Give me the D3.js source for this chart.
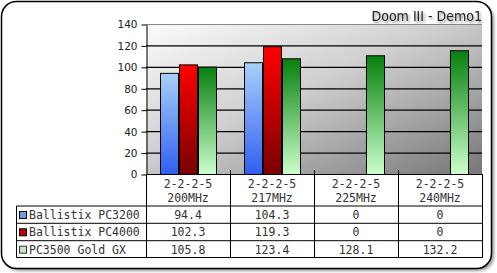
<!DOCTYPE html>
<html>
<head>
<meta charset="utf-8">
<script src="https://cdn.jsdelivr.net/npm/d3@7"></script>
<style>
  body { margin: 0; background: #fff; }
  svg { display: block; }
</style>
</head>
<body>
<svg></svg>
<script>
const width = 497;
const height = 273;

const categories = ['200MHz', '217MHz', '225MHz', '240MHz'];
const timings = ['2-2-2-5', '2-2-2-5', '2-2-2-5', '2-2-2-5'];
const seriesNames = ['Ballistix PC3200', 'Ballistix PC4000', 'PC3500 Gold GX'];
const pc3200 = [94.4, 104.3, 0, 0];
const pc4000 = [102.3, 119.3, 0, 0];
const goldGxBars = [100.2, 108, 110.8, 115.5];   // bar heights as drawn
const goldGxTable = [105.8, 123.4, 128.1, 132.2]; // values printed in the table
const yTicks = [0, 20, 40, 60, 80, 100, 120, 140];

const barSeries = [pc3200, pc4000, goldGxBars];
const tableSeries = [pc3200, pc4000, goldGxTable];

const plot = { left: 146, right: 482, top: 24, bottom: 174 };
const tableLeft = 16.5;
const rowLines = [206, 223.3, 240.7, 257.5];

const svg = d3.select('svg')
    .attr('width', width)
    .attr('height', height);

const defs = svg.append('defs');

const blur = defs.append('filter').attr('id', 'blur')
    .attr('x', '-20%').attr('y', '-20%').attr('width', '140%').attr('height', '140%');
blur.append('feGaussianBlur').attr('stdDeviation', 1.5);

const shadow = defs.append('filter').attr('id', 'shadow')
    .attr('x', '-10%').attr('y', '-30%').attr('width', '130%').attr('height', '180%');
shadow.append('feDropShadow')
    .attr('dx', 1.5).attr('dy', 2)
    .attr('stdDeviation', 1.2)
    .attr('flood-color', '#000')
    .attr('flood-opacity', 0.45);

function gradient(id, stops, x2, y2) {
  const g = defs.append('linearGradient').attr('id', id)
      .attr('x1', 0).attr('y1', 0).attr('x2', x2).attr('y2', y2);
  stops.forEach(s => g.append('stop').attr('offset', s[0]).attr('stop-color', s[1]));
}
gradient('bg', [[0, '#fbfbfb'], [0.45, '#cfcfcf'], [1, '#767676']], 1, 1);
gradient('g0', [[0, '#a9d0f8'], [1, '#2f5ef2']], 0, 1);
gradient('g1', [[0, '#ff0000'], [1, '#7a0000']], 0, 1);
gradient('g2', [[0, '#07800e'], [1, '#ccffcc']], 0, 1);

const swatchColors = ['#6f9ee0', '#c00000', '#c8e4c8'];

// frame with shadow
svg.append('rect')
    .attr('x', 4).attr('y', 4).attr('width', 490).attr('height', 267)
    .attr('rx', 15)
    .attr('fill', '#9a9a9a')
    .attr('filter', 'url(#blur)');
svg.append('rect')
    .attr('x', 1.5).attr('y', 1.5).attr('width', 490).attr('height', 267)
    .attr('rx', 15)
    .attr('fill', '#fff')
    .attr('stroke', '#000')
    .attr('stroke-width', 1.5);

// title
svg.append('text')
    .attr('x', 482).attr('y', 21)
    .attr('text-anchor', 'end')
    .attr('font-family', 'Tahoma, "DejaVu Sans Condensed", "Liberation Sans", sans-serif')
    .attr('font-size', 14)
    .attr('fill', '#222')
    .attr('filter', 'url(#shadow)')
    .text('Doom III - Demo1');

const xScale = d3.scaleBand()
    .domain(categories)
    .range([plot.left, plot.right]);

const xInner = d3.scaleBand()
    .domain(d3.range(seriesNames.length))
    .range([14, xScale.bandwidth() - 14])
    .paddingInner(0.05);

const yScale = d3.scaleLinear()
    .domain([0, 140])
    .range([plot.bottom, plot.top]);

// plot background
svg.append('rect')
    .attr('x', plot.left).attr('y', plot.top)
    .attr('width', plot.right - plot.left)
    .attr('height', plot.bottom - plot.top)
    .attr('fill', 'url(#bg)');

// gridlines
svg.append('g')
    .selectAll('line')
    .data(yTicks.filter(d => d > 0))
    .enter()
    .append('line')
    .attr('x1', plot.left).attr('x2', plot.right)
    .attr('y1', d => yScale(d) + 0.5).attr('y2', d => yScale(d) + 0.5)
    .attr('stroke', d => d === 140 ? '#888' : '#000')
    .attr('stroke-width', 1.2);

// bars
barSeries.forEach((values, si) => {
  svg.append('g')
      .selectAll('rect')
      .data(values.map((v, i) => ({ cat: categories[i], v })).filter(d => d.v > 0))
      .enter()
      .append('rect')
      .attr('x', d => xScale(d.cat) + xInner(si) + 0.5)
      .attr('y', d => yScale(d.v) + 0.5)
      .attr('width', xInner.bandwidth())
      .attr('height', d => yScale(0) - yScale(d.v))
      .attr('fill', 'url(#g' + si + ')')
      .attr('stroke', '#000')
      .attr('stroke-width', 1);
});

// y axis
const yAxis = d3.axisLeft(yScale)
    .tickValues(yTicks)
    .tickSize(5)
    .tickSizeOuter(0)
    .tickPadding(4);

const yAxisG = svg.append('g')
    .attr('transform', 'translate(' + (plot.left + 0.5) + ',0.5)')
    .call(yAxis);
yAxisG.selectAll('text')
    .attr('font-family', 'Verdana, "DejaVu Sans", sans-serif')
    .attr('font-size', 10.5)
    .attr('fill', '#222');
yAxisG.selectAll('line, path').attr('stroke', '#000');

// x axis line
svg.append('line')
    .attr('x1', plot.left).attr('x2', plot.right)
    .attr('y1', plot.bottom + 0.5).attr('y2', plot.bottom + 0.5)
    .attr('stroke', '#000');

// data table
const table = svg.append('g')
    .attr('font-family', '"DejaVu Sans Mono", "Liberation Mono", monospace')
    .attr('font-size', 11.5)
    .attr('fill', '#333');

// vertical lines of category columns
const colEdges = categories.map(c => xScale(c)).concat([plot.right]);
table.selectAll('line.col')
    .data(colEdges)
    .enter()
    .append('line')
    .attr('x1', d => d + 0.5).attr('x2', d => d + 0.5)
    .attr('y1', (d, i) => (i === 0 || i === colEdges.length - 1) ? plot.bottom : plot.bottom - 4)
    .attr('y2', rowLines[rowLines.length - 1])
    .attr('stroke', '#000');

// horizontal lines
table.selectAll('line.row')
    .data(rowLines)
    .enter()
    .append('line')
    .attr('x1', tableLeft).attr('x2', plot.right + 0.5)
    .attr('y1', d => d).attr('y2', d => d)
    .attr('stroke', '#000');
table.append('line')
    .attr('x1', tableLeft).attr('x2', tableLeft)
    .attr('y1', rowLines[0]).attr('y2', rowLines[rowLines.length - 1])
    .attr('stroke', '#000');

// header texts
table.selectAll('text.timing')
    .data(categories)
    .enter()
    .append('text')
    .attr('x', d => xScale(d) + xScale.bandwidth() / 2)
    .attr('y', 188)
    .attr('text-anchor', 'middle')
    .text((d, i) => timings[i]);
table.selectAll('text.cat')
    .data(categories)
    .enter()
    .append('text')
    .attr('x', d => xScale(d) + xScale.bandwidth() / 2)
    .attr('y', 201.5)
    .attr('text-anchor', 'middle')
    .text(d => d);

// series rows
seriesNames.forEach((name, si) => {
  const top = rowLines[si];
  const base = top + 13;
  table.append('rect')
      .attr('x', 19.5).attr('y', top + 5.5)
      .attr('width', 7).attr('height', 7)
      .attr('fill', swatchColors[si])
      .attr('stroke', si === 2 ? '#333' : '#000')
      .attr('stroke-width', 1);
  table.append('text')
      .attr('x', 29).attr('y', base)
      .text(name);
  table.selectAll(null)
      .data(tableSeries[si])
      .enter()
      .append('text')
      .attr('x', (d, i) => xScale(categories[i]) + xScale.bandwidth() / 2)
      .attr('y', base)
      .attr('text-anchor', 'middle')
      .text(d => d === 0 ? '0' : d.toFixed(1));
});
</script>
</body>
</html>
